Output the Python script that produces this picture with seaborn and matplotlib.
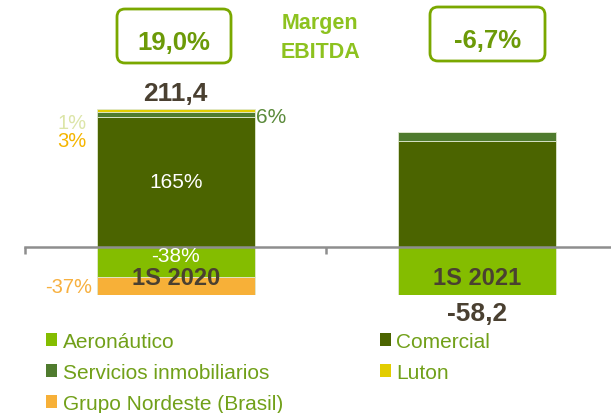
import matplotlib
matplotlib.use("Agg")
import matplotlib.pyplot as plt
import seaborn as sns
from matplotlib.patches import FancyBboxPatch, Patch
from matplotlib.transforms import IdentityTransform

# EBITDA por segmento (M EUR)
periods = ["1S 2020", "1S 2021"]
totals = [211.4, -58.2]
margins = ["19,0%", "-6,7%"]

comercial = [348.8, 283.6]
servicios = [12.7, 25.0]
luton = [8.5, 0.0]
aeronautico = [-80.3, -366.8]
nordeste = [-78.2, 0.0]

# etiquetas de peso sobre el total 2020
share_labels = {"comercial": "165%", "servicios": "6%", "luton_a": "1%",
                "luton_b": "3%", "aeronautico": "-38%", "nordeste": "-37%"}

colors = {
    "Aeronáutico": "#84bd00",
    "Comercial": "#4b6400",
    "Servicios inmobiliarios": "#4f7b2e",
    "Luton": "#e2cd00",
    "Grupo Nordeste (Brasil)": "#f7b038",
}

sns.set_theme(style="white")
plt.rcParams["font.family"] = ["Liberation Sans", "DejaVu Sans"]

W, H = 611, 414
fig = plt.figure(figsize=(W / 100, H / 100), dpi=100)
ax = fig.add_axes([25 / W, 1 - 296 / H, 586 / W, 296 / H])

bar_w = 0.524
layers = [
    ("Comercial", comercial, [0, 0]),
    ("Servicios inmobiliarios", servicios, comercial),
    ("Luton", luton, [c + s for c, s in zip(comercial, servicios)]),
    ("Aeronáutico", aeronautico, [0, 0]),
    ("Grupo Nordeste (Brasil)", nordeste, aeronautico),
]
for name, vals, base in layers:
    sns.barplot(x=periods, y=vals, bottom=base, color=colors[name], width=bar_w,
                saturation=1, errorbar=None, edgecolor="#dfe8cf", linewidth=0.6, ax=ax)

for s in ["left", "top", "right"]:
    ax.spines[s].set_visible(False)
ax.spines["bottom"].set_position(("data", 0))
ax.spines["bottom"].set_color("#8e8e8e")
ax.spines["bottom"].set_linewidth(1.8)
ax.set_xticks([-0.5, 0.5], labels=["", ""])
ax.tick_params(axis="x", direction="out", length=5, width=1.8, color="#8e8e8e", bottom=True)
ax.set_yticks([])
ax.set_xlabel("")
ax.set_ylabel("")

k = 348.8 / 130
ax.set_ylim(-48 * k, 248 * k)
ax.set_xlim(-0.5, -0.5 + 586 / 301.5)

dark = "#4a4031"
# categorias dentro de la barra
for i, p in enumerate(periods):
    ax.text(i, -81, p, ha="center", va="center", fontsize=17, fontweight="bold",
            color=dark, zorder=5)

# totales
top0 = comercial[0] + servicios[0] + luton[0]
ax.annotate(f"{totals[0]:.1f}".replace(".", ","), (0, top0), xytext=(0, 11.5),
            textcoords="offset points", ha="center", va="center", fontsize=19,
            fontweight="bold", color=dark)
ax.text(1, -176, f"{totals[1]:.1f}".replace(".", ","), ha="center", va="center",
        fontsize=19, fontweight="bold", color=dark, clip_on=False)

# pesos 2020
left = -bar_w / 2 - 0.035
right = bar_w / 2 + 0.005
ax.text(0, comercial[0] / 2, share_labels["comercial"], ha="center", va="center",
        fontsize=15, color="white")
ax.text(0, -22, share_labels["aeronautico"], ha="center", va="center",
        fontsize=15, color="white", zorder=5)
ax.text(right, 351, share_labels["servicios"], ha="left", va="center",
        fontsize=15, color="#5a8a3a")
ax.text(left, 334, share_labels["luton_a"], ha="right", va="center",
        fontsize=14.5, color="#dce5a8")
ax.text(left, 287, share_labels["luton_b"], ha="right", va="center",
        fontsize=14.5, color="#f5b500")
ax.text(left + 0.02, -107, share_labels["nordeste"], ha="right", va="center",
        fontsize=14.5, color="#f7b03f", clip_on=False)

# margen EBITDA arriba
boxes = [(117, 10, 114, 54), (430, 8, 115, 54)]
for (bx, by, bw, bh), m in zip(boxes, margins):
    fig.add_artist(FancyBboxPatch((bx, H - by - bh), bw, bh,
                                  boxstyle="round,pad=0,rounding_size=8",
                                  transform=IdentityTransform(), fc="none",
                                  ec="#7aa800", lw=2))
    fig.text((bx + bw / 2) / W, 1 - (by + 39.5) / H, m, ha="center", va="baseline",
             fontsize=18.5, fontweight="bold", color="#6c9a08")
fig.text(320 / W, 1 - 24 / H, "Margen", ha="center", va="center", fontsize=15.5,
         fontweight="bold", color="#8dc21f")
fig.text(320 / W, 1 - 52 / H, "EBITDA", ha="center", va="center", fontsize=15.5,
         fontweight="bold", color="#8dc21f")

# leyenda
order = ["Aeronáutico", "Servicios inmobiliarios", "Grupo Nordeste (Brasil)",
         "Comercial", "Luton"]
handles = [Patch(facecolor=colors[n], edgecolor="none", label=n) for n in order]
fig.legend(handles=handles, loc="upper left", bbox_to_anchor=(46 / W, 1 - 333 / H),
           ncol=2, frameon=False, fontsize=15, labelcolor="#71a019",
           handlelength=0.55, handleheight=0.55, handletextpad=0.25,
           columnspacing=4.65, labelspacing=0.57, borderpad=0, borderaxespad=0)

fig.savefig("out.png", dpi=100)
